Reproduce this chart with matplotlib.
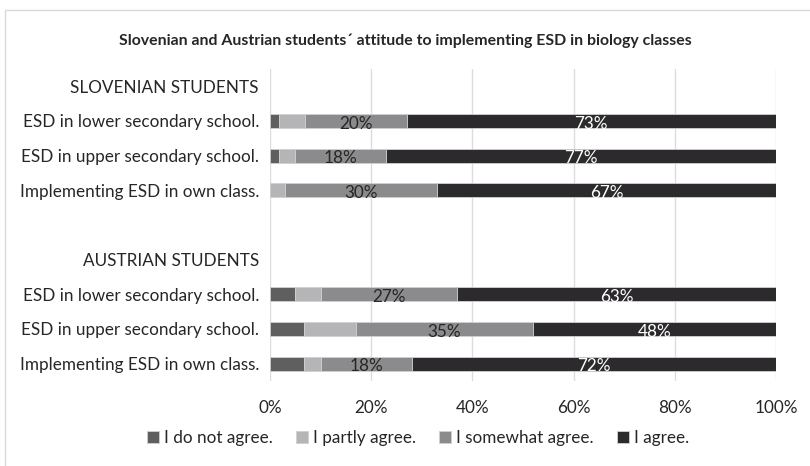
import matplotlib
matplotlib.use("Agg")
import matplotlib.pyplot as plt
from matplotlib.patches import Rectangle
import numpy as np

plt.rcParams['font.family'] = ['Lato', 'DejaVu Sans']

# Row labels, top to bottom (headers and a spacer row carry no bars)
row_labels = [
    "SLOVENIAN STUDENTS",
    "ESD in lower secondary school.",
    "ESD in upper secondary school.",
    "Implementing ESD in own class.",
    "",
    "AUSTRIAN STUDENTS",
    "ESD in lower secondary school.",
    "ESD in upper secondary school.",
    "Implementing ESD in own class.",
]

series_names = ["I do not agree.", "I partly agree.", "I somewhat agree.", "I agree."]

# Percentages per row (NaN for header / spacer rows)
nan = np.nan
do_not_agree   = [nan, 1.7, 1.7, 0.0, nan, nan, 5.0, 6.7, 6.7]
partly_agree   = [nan, 5.3, 3.3, 3.0, nan, nan, 5.0, 10.3, 3.3]
somewhat_agree = [nan, 20.0, 18.0, 30.0, nan, nan, 27.0, 35.0, 18.0]
agree          = [nan, 73.0, 77.0, 67.0, nan, nan, 63.0, 48.0, 72.0]

colors = ["#5f5f5f", "#b5b5b7", "#8b8b8d", "#2c2a2c"]
label_colors = [None, None, "#262626", "#ffffff"]

fs = 12.3

fig = plt.figure(figsize=(8.10, 4.66), dpi=100)
ax = fig.add_axes([270 / 810, 1 - 381 / 466, 506 / 810, 312 / 466])

y = np.arange(len(row_labels))
data = [do_not_agree, partly_agree, somewhat_agree, agree]
left = np.zeros(len(row_labels))
for vals, col, lc, name in zip(data, colors, label_colors, series_names):
    v = np.array(vals, dtype=float)
    mask = ~np.isnan(v)
    ax.barh(y[mask], v[mask], left=left[mask], height=0.4, color=col,
            edgecolor="#d0d0d0", linewidth=0.6, label=name, zorder=3)
    if lc is not None:
        for yi, vi, li in zip(y[mask], v[mask], left[mask]):
            ax.text(li + vi / 2, yi + 0.08, f"{vi:.0f}%", ha="center", va="center",
                    color=lc, fontsize=fs, zorder=4)
    left[mask] += v[mask]

ax.set_xlim(0, 100)
ax.set_ylim(len(row_labels) - 0.5, -0.5)
ax.set_yticks(y)
ax.set_yticklabels(row_labels, fontsize=fs, color="#262626")
ax.set_xticks(np.arange(0, 101, 20))
ax.set_xticklabels([f"{t}%" for t in range(0, 101, 20)], fontsize=fs, color="#262626")
ax.tick_params(length=0, pad=8)
ax.tick_params(axis="x", pad=14)
ax.grid(axis="x", color="#dcdcdc", linewidth=1.0, zorder=0)
for s in ax.spines.values():
    s.set_visible(False)

fig.text(0.5, 1 - 41 / 466, "Slovenian and Austrian students\u00b4 attitude to implementing ESD in biology classes",
         ha="center", va="center", fontsize=11.4, fontweight="bold", color="#262626")

leg = fig.legend(loc="center", bbox_to_anchor=(418 / 810, 1 - 438 / 466), ncol=4, frameon=False,
                 fontsize=fs, handlelength=0.7, handleheight=0.7, handletextpad=0.3,
                 columnspacing=1.35)
for t in leg.get_texts():
    t.set_color("#262626")

# Chart frame
fig.patches.append(Rectangle((5 / 810, -0.1), 1.2, 1 - 10 / 466 + 0.1, transform=fig.transFigure,
                             fill=False, edgecolor="#d9d9d9", linewidth=1.0))

fig.savefig("out.png", dpi=100)
